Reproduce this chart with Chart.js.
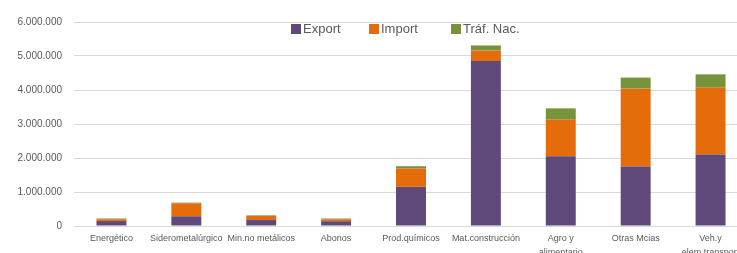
<!DOCTYPE html>
<html>
<head>
<meta charset="utf-8">
<script src="https://cdn.jsdelivr.net/npm/chart.js@4/dist/chart.umd.min.js"></script>
<style>
  html, body { margin: 0; padding: 0; background: #fff; }
  body { width: 737px; height: 253px; overflow: hidden; position: relative; }
  #wrap { position: absolute; left: 0; top: 0; width: 760px; height: 262px; }
  .lg { position: absolute; top: 21px; font: 13px "Liberation Sans", Arial, sans-serif; color: #595959; white-space: nowrap; }
  .lg i { display: inline-block; width: 10px; height: 10px; margin-right: 2px; vertical-align: -1px; }
</style>
</head>
<body>
<div id="wrap"><canvas id="c" width="760" height="262"></canvas></div>
<div class="lg" style="left:291px"><i style="background:#5F497A"></i>Export</div>
<div class="lg" style="left:369px"><i style="background:#E46C0A"></i>Import</div>
<div class="lg" style="left:451px"><i style="background:#77933C"></i>Tráf. Nac.</div>
<script>
const categories = ["Energético", "Siderometalúrgico", "Min.no metálicos", "Abonos", "Prod.químicos", "Mat.construcción", ["Agro y", "alimentario"], "Otras Mcias", ["Veh.y", "elem.transport"]];
const seriesNames = ["Export", "Import", "Tráf. Nac."];
const exportVals = [145000, 285000, 175000, 140000, 1150000, 4850000, 2050000, 1750000, 2100000];
const importVals = [52000, 380000, 120000, 57000, 540000, 310000, 1080000, 2290000, 1970000];
const trafNacVals = [25000, 22000, 18000, 23000, 68000, 150000, 330000, 325000, 390000];
const yTicks = [0, 1000000, 2000000, 3000000, 4000000, 5000000, 6000000];
const colors = ["#5F497A", "#E46C0A", "#77933C"];

function fmt(v) { return String(v).replace(/\B(?=(\d{3})+(?!\d))/g, "."); }

new Chart(document.getElementById("c"), {
  type: "bar",
  data: {
    labels: categories,
    datasets: [exportVals, importVals, trafNacVals].map((d, i) => ({
      label: seriesNames[i], data: d, backgroundColor: colors[i],
      borderWidth: 0, barPercentage: 0.4, categoryPercentage: 1.0
    }))
  },
  options: {
    responsive: false, animation: false, devicePixelRatio: 1,
    layout: { padding: { top: 22, right: 12, bottom: 0, left: 0 } },
    plugins: { legend: { display: false }, tooltip: { enabled: false } },
    scales: {
      x: {
        stacked: true,
        grid: { display: false, drawTicks: false },
        border: { display: false },
        ticks: { color: "#595959", font: { family: "Liberation Sans", size: 9, lineHeight: 1.5 }, padding: 6, maxRotation: 0, autoSkip: false },
        afterFit: s => { s.height = 36; }
      },
      y: {
        stacked: true, min: 0, max: 6000000,
        afterBuildTicks: s => { s.ticks = yTicks.map(v => ({ value: v })); },
        grid: { color: "#d9d9d9", lineWidth: 1, drawTicks: false },
        border: { display: false },
        ticks: { color: "#595959", font: { family: "Liberation Sans", size: 10 }, padding: 12, callback: v => fmt(v) },
        afterFit: s => { s.width = 74; }
      }
    }
  }
});
</script>
</body>
</html>
